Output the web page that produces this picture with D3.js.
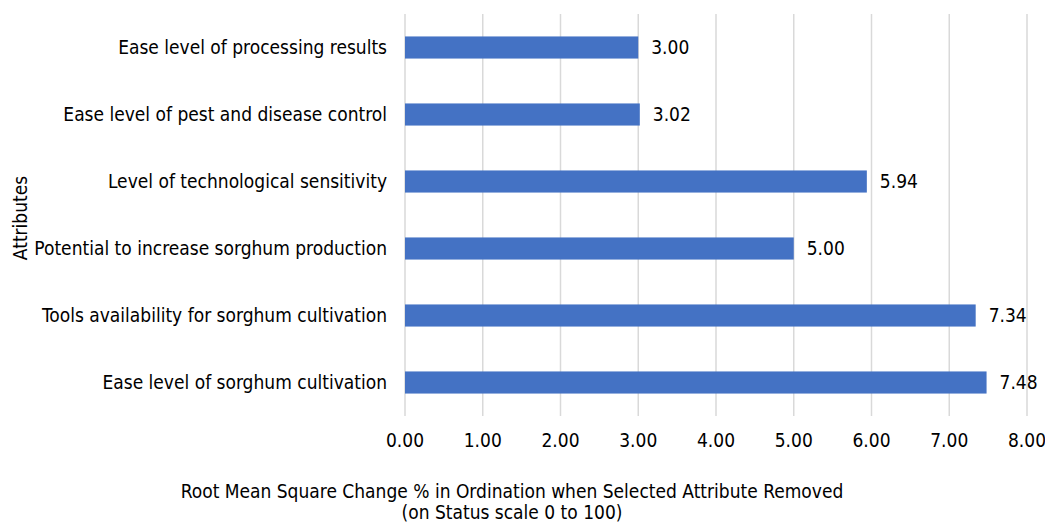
<!DOCTYPE html>
<html>
<head>
<meta charset="utf-8">
<script src="https://cdn.jsdelivr.net/npm/d3@7"></script>
<style>
  body { margin: 0; background: #fff; }
  text { font-family: "DejaVu Sans Condensed", "DejaVu Sans", sans-serif; fill: #000; font-size: 19px; }
</style>
</head>
<body>
<script>
const attributes = [
  "Ease level of processing results",
  "Ease level of pest and disease control",
  "Level of technological sensitivity",
  "Potential to increase sorghum production",
  "Tools availability for sorghum cultivation",
  "Ease level of sorghum cultivation"
];
const rmsChange = [3.00, 3.02, 5.94, 5.00, 7.34, 7.48];
const xTicks = [0, 1, 2, 3, 4, 5, 6, 7, 8];

const WIDTH = 1045;
const HEIGHT = 522;
const PLOT_LEFT = 405;
const PLOT_RIGHT = 1027;
const PLOT_TOP = 14;
const PLOT_BOTTOM = 416;

const svg = d3.select("body").append("svg")
  .attr("width", WIDTH)
  .attr("height", HEIGHT);

const x = d3.scaleLinear().domain([0, 8]).range([PLOT_LEFT, PLOT_RIGHT]);
const y = d3.scaleBand().domain(attributes).range([PLOT_TOP, PLOT_BOTTOM]).paddingInner(0.67).paddingOuter(0.335);

// gridlines
svg.append("g")
  .selectAll("line")
  .data(xTicks)
  .enter().append("line")
  .attr("x1", d => x(d))
  .attr("x2", d => x(d))
  .attr("y1", PLOT_TOP)
  .attr("y2", PLOT_BOTTOM)
  .style("stroke", "#d9d9d9")
  .style("stroke-width", 1.5);

// bars
const data = attributes.map((a, i) => ({ name: a, value: rmsChange[i] }));
svg.append("g")
  .selectAll("rect")
  .data(data)
  .enter().append("rect")
  .attr("x", x(0))
  .attr("y", d => y(d.name))
  .attr("width", d => x(d.value) - x(0))
  .attr("height", y.bandwidth())
  .style("fill", "#4472c4");

// value labels
svg.append("g")
  .selectAll("text")
  .data(data)
  .enter().append("text")
  .attr("x", d => x(d.value) + 13)
  .attr("y", d => y(d.name) + y.bandwidth() / 2)
  .attr("dy", "0.35em")
  .text(d => d.value.toFixed(2));

// category labels
svg.append("g")
  .selectAll("text")
  .data(attributes)
  .enter().append("text")
  .attr("x", PLOT_LEFT - 18)
  .attr("y", d => y(d) + y.bandwidth() / 2)
  .attr("dy", "0.35em")
  .attr("text-anchor", "end")
  .text(d => d);

// x tick labels
svg.append("g")
  .selectAll("text")
  .data(xTicks)
  .enter().append("text")
  .attr("x", d => x(d))
  .attr("y", 440)
  .attr("dy", "0.35em")
  .attr("text-anchor", "middle")
  .text(d => d.toFixed(2));

// axis titles
svg.append("text")
  .attr("x", 512)
  .attr("y", 498)
  .attr("text-anchor", "middle")
  .text("Root Mean Square Change % in Ordination when Selected Attribute Removed");
svg.append("text")
  .attr("x", 512)
  .attr("y", 519)
  .attr("text-anchor", "middle")
  .text("(on Status scale 0 to 100)");

svg.append("text")
  .attr("transform", "translate(27,218) rotate(-90)")
  .attr("text-anchor", "middle")
  .text("Attributes");
</script>
</body>
</html>
